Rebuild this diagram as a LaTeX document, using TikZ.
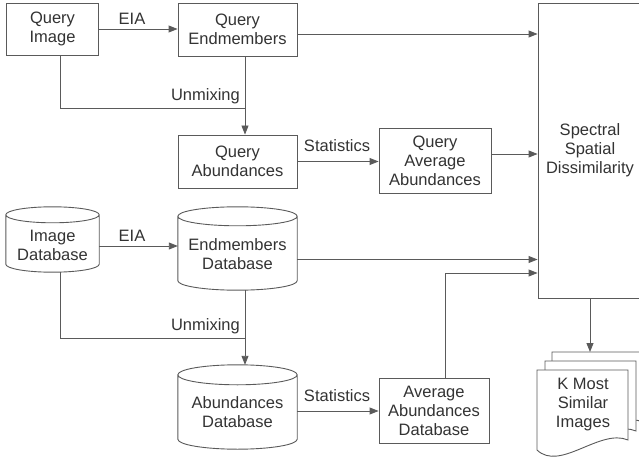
\documentclass[tikz,border=0pt]{standalone}
\usepackage{fontspec}
\setmainfont{Liberation Sans}
\usetikzlibrary{arrows.meta,calc}
\definecolor{ln}{HTML}{5A5A5A}
\definecolor{tx}{HTML}{333333}
\newcommand\drawcyl[2]{%
  \draw[line] let \p1=(#1.north west), \p2=(#1.south east), \n1={(\x2-\x1)/2} in
    (\x1,\y1-#2pt) -- (\x1,\y2+#2pt) arc[start angle=180,end angle=360,x radius=\n1,y radius=#2pt] -- (\x2,\y1-#2pt)
    (\x1+\n1,\y1-#2pt) ellipse[x radius=\n1,y radius=#2pt];}
\begin{document}
\begin{tikzpicture}[x=1pt,y=-1pt,
  line/.style={draw=ln,line width=0.9pt},
  arr/.style={line,-{Triangle[length=9pt,width=7pt]}},
  txt/.style={align=center,text=tx,font=\fontsize{16.5}{19}\selectfont,inner sep=0pt},
  box/.style={txt,line,rectangle,fill=white},
  frame/.style={rectangle,inner sep=0pt}]
\useasboundingbox (0,0) rectangle (639,462);
\clip (0,0) rectangle (639,462);
% boxes
\node[box,minimum width=92,minimum height=52] (qimg) at (52.5,29) {Query\\Image};
\node[box,minimum width=119,minimum height=53] (qend) at (237.5,29.5) {Query\\Endmembers};
\node[box,minimum width=119,minimum height=53] (qabund) at (237.5,161.5) {Query\\Abundances};
\node[box,minimum width=112,minimum height=65] (qavg) at (435,160.5) {Query\\Average\\Abundances};
\node[box,minimum width=104,minimum height=295] (spec) at (590,150.5) {Spectral\\Spatial\\Dissimilarity};
\node[box,minimum width=110,minimum height=65] (avgdb) at (434,410.5) {Average\\Abundances\\Database};
% cylinders
\node[frame,minimum width=93,minimum height=65] (imgdb) at (52.5,239.5) {};
\node[frame,minimum width=119,minimum height=83] (enddb) at (237.5,248.5) {};
\node[frame,minimum width=119,minimum height=84] (abdb) at (237.5,407) {};
\drawcyl{imgdb}{8}
\drawcyl{enddb}{9.5}
\drawcyl{abdb}{10}
\node[txt] (imgdbT) at (52.5,245.5) {Image\\Database};
\node[txt] (enddbT) at (237.5,254) {Endmembers\\Database};
\node[txt] (abdbT) at (237.5,412.5) {Abundances\\Database};
% documents
\foreach \dx/\dy in {15/-18,8/-9,0/0}{
  \begin{scope}[shift={(\dx,\dy)}]
    \filldraw[line,fill=white] (537,370) -- (628,370) -- (628,440) .. controls (600,428) and (560,472) .. (537,450) -- cycle;
  \end{scope}}
\node[txt] (docs) at (583,405) {K Most\\Similar\\Images};
\coordinate (docstop) at (590,352);
% labels
\node[txt] (l1) at (132,18.5) {EIA};
\node[txt] (l2) at (337,146) {Statistics};
\node[txt,anchor=east] (l3) at (240,96) {Unmixing};
\node[txt] (l4) at (132,236) {EIA};
\node[txt,anchor=east] (l5) at (240,326) {Unmixing};
\node[txt] (l6) at (337,396) {Statistics};
% connectors
\coordinate (qj) at (245,108);
\coordinate (dj) at (245,338);
\coordinate (aj) at (445,273);
\draw[arr] (qimg.east) -- (qimg.east -| qend.west);
\draw[arr] ([yshift=-4.5pt]qend.east) -- ([yshift=-4.5pt]qend.east -| spec.west);
\draw[line] ([xshift=7.5pt]qimg.south) |- (qj);
\draw[arr] ([xshift=7.5pt]qend.south) -- ([xshift=7.5pt]qabund.north);
\draw[arr] (qabund.east) -- (qabund.east -| qavg.west);
\draw[arr] ([yshift=6.5pt]qavg.east) -- ([yshift=6.5pt]qavg.east -| spec.west);
\draw[arr] ([yshift=-6.5pt]imgdb.east) -- ([yshift=-6.5pt]imgdb.east -| enddb.west);
\draw[arr] ([yshift=-11pt]enddb.east) -- ([yshift=-11pt]enddb.east -| spec.west);
\draw[line] ([xshift=7.5pt]imgdb.south) |- (dj);
\draw[arr] ([xshift=7.5pt]enddb.south) -- ([xshift=7.5pt]abdb.north);
\draw[arr] ([yshift=-4pt]abdb.east) -- ([yshift=-4pt]abdb.east -| avgdb.west);
\draw[arr] ([xshift=11pt]avgdb.north) |- (aj -| spec.west);
\draw[arr] (spec.south -| docstop) -- (docstop);
\end{tikzpicture}
\end{document}
